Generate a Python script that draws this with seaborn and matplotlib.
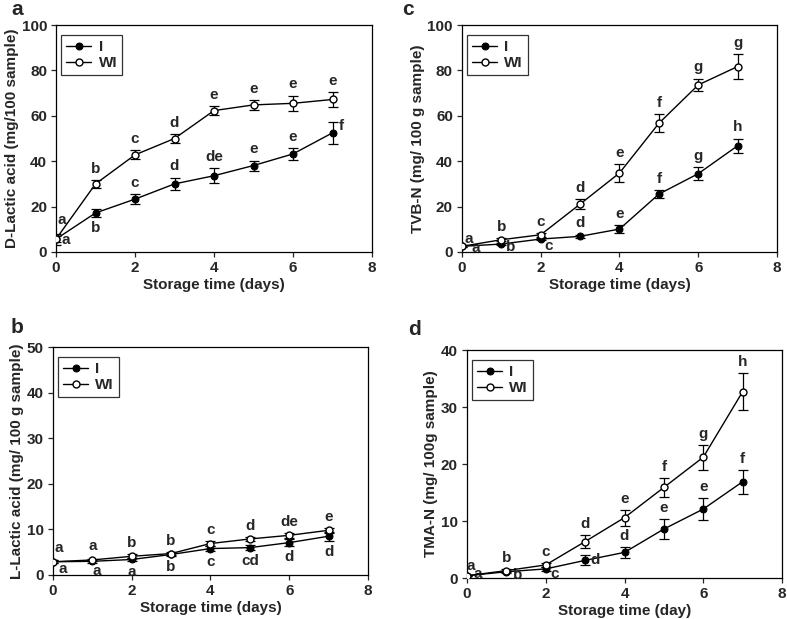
import numpy as np
import pandas as pd
import matplotlib
matplotlib.use('Agg')
import matplotlib.pyplot as plt
import seaborn as sns

days = [0, 1, 2, 3, 4, 5, 6, 7]

# panel a - D-lactic acid
a_I = [5.7, 17.2, 23.3, 30.0, 33.6, 38.1, 43.2, 52.5]
a_I_err = [2.4, 1.8, 2.1, 2.8, 3.4, 2.2, 2.6, 4.8]
a_WI = [5.7, 30.0, 42.8, 50.0, 62.3, 64.8, 65.5, 67.2]
a_WI_err = [1.5, 1.8, 2.0, 2.0, 2.0, 2.3, 3.4, 3.2]
a_I_let = ['a', 'b', 'c', 'd', 'de', 'e', 'e', 'f']
a_WI_let = ['a', 'b', 'c', 'd', 'e', 'e', 'e', 'e']

# panel b - L-lactic acid
b_I = [2.9, 3.0, 3.4, 4.5, 5.8, 6.0, 7.1, 8.5]
b_I_err = [0.3, 0.3, 0.4, 0.4, 0.5, 0.5, 0.7, 1.0]
b_WI = [2.9, 3.3, 4.1, 4.7, 6.9, 7.9, 8.7, 9.8]
b_WI_err = [0.3, 0.3, 0.4, 0.3, 0.5, 0.5, 0.5, 0.5]
b_I_let = ['a', 'a', 'a', 'b', 'c', 'cd', 'd', 'd']
b_WI_let = ['a', 'a', 'b', 'b', 'c', 'd', 'de', 'e']

# panel c - TVB-N
c_I = [2.5, 3.5, 5.7, 6.9, 10.1, 25.5, 34.5, 46.8]
c_I_err = [0.4, 0.5, 0.6, 0.8, 1.7, 1.7, 3.0, 3.2]
c_WI = [2.5, 5.4, 7.6, 21.1, 34.8, 56.7, 73.6, 81.7]
c_WI_err = [0.5, 0.7, 0.8, 2.3, 3.9, 3.9, 2.8, 5.6]
c_I_let = ['a', 'b', 'c', 'd', 'e', 'f', 'g', 'h']
c_WI_let = ['a', 'b', 'c', 'd', 'e', 'f', 'g', 'g']

# panel d - TMA-N
d_I = [0.4, 1.1, 1.6, 3.1, 4.5, 8.6, 12.1, 16.9]
d_I_err = [0.1, 0.2, 0.3, 0.9, 0.9, 1.7, 2.0, 2.1]
d_WI = [0.4, 1.3, 2.3, 6.4, 10.6, 15.9, 21.2, 32.7]
d_WI_err = [0.1, 0.2, 0.3, 1.2, 1.4, 1.6, 2.2, 3.25]
d_I_let = ['a', 'b', 'c', 'd', 'd', 'e', 'e', 'f']
d_WI_let = ['a', 'b', 'c', 'd', 'e', 'f', 'g', 'h']

# letter placement: 'u' above error cap, 'd' below error cap, tuple = offset (pt) from point
a_I_pos = [(7, -1), 'd', 'u', 'u', 'u', 'u', 'u', (6, 5)]
a_WI_pos = [(4, 14), 'u', 'u', 'u', 'u', 'u', 'u', 'u']
b_I_pos = [(7, -5), (3, -7), 'd', 'd', 'd', 'd', 'd', 'd']
b_WI_pos = [(4, 10), (0, 10), 'u', 'u', 'u', 'u', 'u', 'u']
c_I_pos = [(10, -1), (7, -2), (6, -5), 'u', 'u', 'u', 'u', 'u']
c_WI_pos = [(5, 5), 'u', 'u', 'u', 'u', 'u', 'u', 'u']
d_I_pos = [(8, 1), (8, -2), (6.5, -4), (7, 0), 'u', 'u', 'u', 'u']
d_WI_pos = [(3, 7), 'u', 'u', 'u', 'u', 'u', 'u', 'u']

sns.set_style('ticks')
plt.rcParams['font.family'] = ['Liberation Sans', 'DejaVu Sans']
plt.rcParams['font.weight'] = 'bold'
plt.rcParams['axes.labelweight'] = 'bold'

FS = 11

fig = plt.figure(figsize=(7.87, 6.19), dpi=100)

panels = [
    ('a', [0.0712, 0.5929, 0.4015, 0.3667], 'D-Lactic acid (mg/100 sample)', 'Storage time (days)', 100, 20,
     a_I, a_I_err, a_WI, a_WI_err, a_I_let, a_WI_let, a_I_pos, a_WI_pos, (0.015, 0.976)),
    ('c', [0.587, 0.5929, 0.4003, 0.3667], 'TVB-N (mg/ 100 g sample)', 'Storage time (days)', 100, 20,
     c_I, c_I_err, c_WI, c_WI_err, c_I_let, c_WI_let, c_I_pos, c_WI_pos, (0.511, 0.976)),
    ('b', [0.0673, 0.0711, 0.4003, 0.3683], 'L-Lactic acid (mg/ 100 g sample)', 'Storage time (days)', 50, 10,
     b_I, b_I_err, b_WI, b_WI_err, b_I_let, b_WI_let, b_I_pos, b_WI_pos, (0.013, 0.462)),
    ('d', [0.5934, 0.0662, 0.4003, 0.3683], 'TMA-N (mg/ 100g sample)', 'Storage time (day)', 40, 10,
     d_I, d_I_err, d_WI, d_WI_err, d_I_let, d_WI_let, d_I_pos, d_WI_pos, (0.518, 0.459)),
]


def put_letters(ax, ys, errs, letters, places):
    for x, y, e, t, p in zip(days, ys, errs, letters, places):
        if p == 'u':
            xy, off = (x, y + e), (0, 8)
        elif p == 'd':
            xy, off = (x, y - e), (0, -8)
        else:
            xy, off = (x, y), p
        ax.annotate(t, xy, xytext=off, textcoords='offset points', ha='center', va='center',
                    fontsize=FS, fontweight='bold')


for (lab, rect, ylab, xlab, ymax, ystep, yI, eI, yW, eW, lI, lW, pI, pW, labpos) in panels:
    ax = fig.add_axes(rect)
    df = pd.DataFrame({'day': days * 2, 'val': yI + yW,
                       'group': ['I'] * len(days) + ['WI'] * len(days)})
    ax.errorbar(days, yI, yerr=eI, fmt='none', ecolor='black', elinewidth=0.9, capsize=3.5, capthick=0.9, zorder=2)
    ax.errorbar(days, yW, yerr=eW, fmt='none', ecolor='black', elinewidth=0.9, capsize=3.5, capthick=0.9, zorder=2)
    sns.lineplot(data=df[df.group == 'I'], x='day', y='val', ax=ax, color='black', lw=1.0,
                 marker='o', markersize=5, markerfacecolor='black', markeredgecolor='black',
                 label='I', zorder=3)
    sns.lineplot(data=df[df.group == 'WI'], x='day', y='val', ax=ax, color='black', lw=1.0,
                 marker='o', markersize=5, markerfacecolor='white', markeredgecolor='black',
                 markeredgewidth=1.0, label='WI', zorder=4)
    put_letters(ax, yI, eI, lI, pI)
    put_letters(ax, yW, eW, lW, pW)
    ax.set_xlim(0, 8)
    ax.set_ylim(0, ymax)
    ax.set_xticks([0, 2, 4, 6, 8])
    ax.set_yticks(np.arange(0, ymax + 1, ystep))
    ax.set_xlabel(xlab, fontsize=FS, fontweight='bold', labelpad=2)
    ax.set_ylabel(ylab, fontsize=FS, fontweight='bold', labelpad=2)
    ax.tick_params(direction='out', length=3.5, width=0.9, labelsize=FS, pad=3)
    for s in ax.spines.values():
        s.set_linewidth(0.9)
        s.set_color('black')
    for t in ax.get_xticklabels() + ax.get_yticklabels():
        t.set_fontweight('bold')
    leg = ax.legend(loc='upper left', bbox_to_anchor=(0.016, 0.956), fontsize=FS, frameon=True,
                    fancybox=False, edgecolor='black', handlelength=1.6, handletextpad=0.5,
                    borderpad=0.35, labelspacing=0.1, borderaxespad=0)
    leg.get_frame().set_linewidth(0.9)
    for t in leg.get_texts():
        t.set_fontweight('bold')
    fig.text(labpos[0], labpos[1], lab, fontsize=15, fontweight='bold', ha='left', va='baseline')

fig.savefig('out.png', dpi=100)
